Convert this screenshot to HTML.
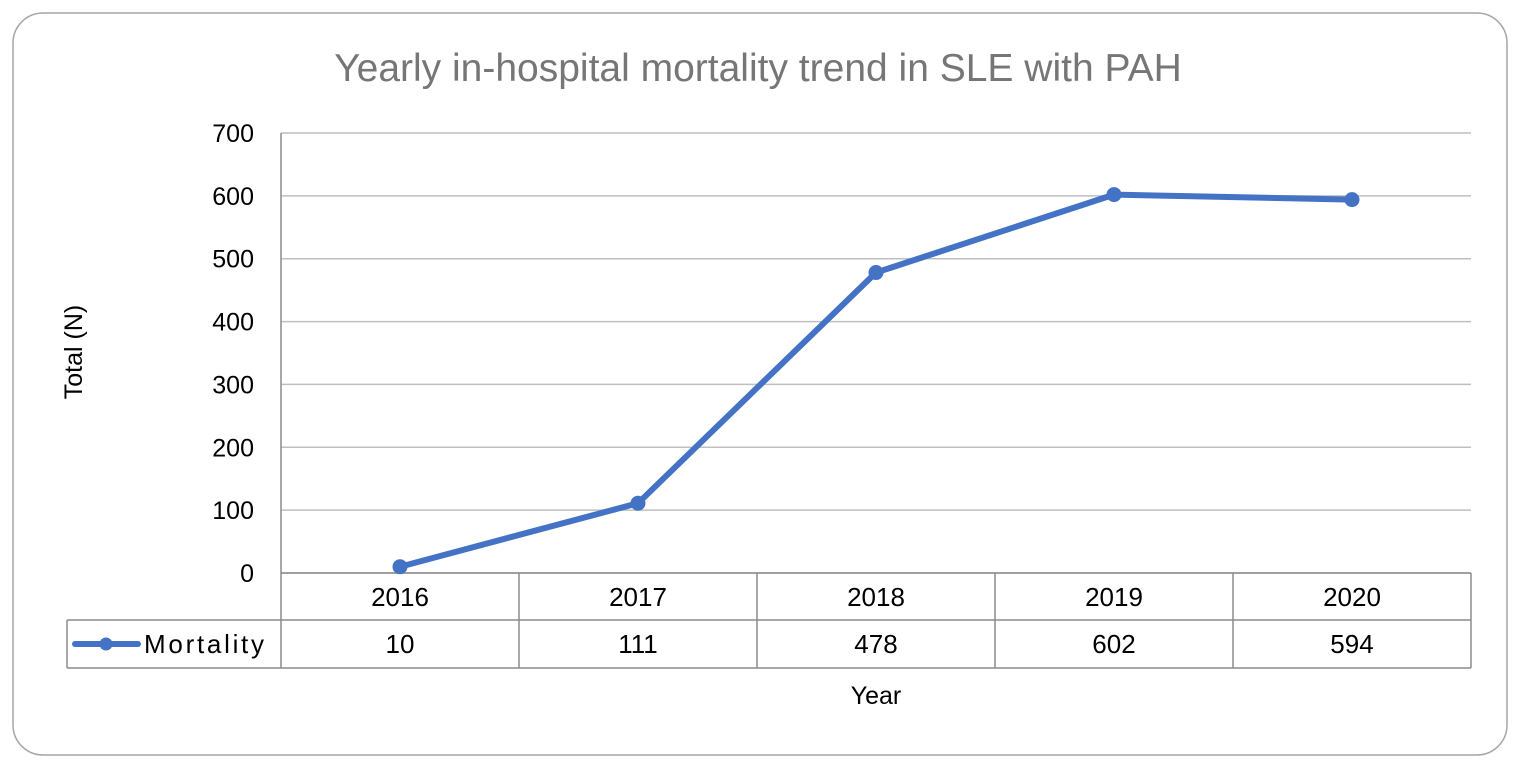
<!DOCTYPE html>
<html><head><meta charset="utf-8"><style>
body{margin:0;background:#fff;}
svg{display:block;font-family:"Liberation Sans",sans-serif;}
</style></head><body>
<svg width="1530" height="772" id="c">
<rect x="13" y="13" width="1494" height="742" rx="30" fill="#fff" stroke="#a6a6a6" stroke-width="1.5"/>
<text x="758" y="81" text-anchor="middle" font-size="39" fill="#767676">Yearly in-hospital mortality trend in SLE with PAH</text>
<text transform="translate(82,352) rotate(-90)" text-anchor="middle" font-size="25" fill="#000">Total (N)</text>
<text x="876" y="704" text-anchor="middle" font-size="25" fill="#000">Year</text>
<g id="grid"></g><g id="tbl"></g><g id="series"></g>
</svg>
<script>
const categories=["2016","2017","2018","2019","2020"];
const mortality=[10,111,478,602,594];
const yTicks=[0,100,200,300,400,500,600,700];
const NS="http://www.w3.org/2000/svg";
const L=281,R=1471,T=133,B=573,yMax=700;
const colW=(R-L)/categories.length;
const x=i=>L+colW*(i+0.5);
const y=v=>B-(v/yMax)*(B-T);
function mk(tag,attrs,parent){const e=document.createElementNS(NS,tag);for(const k in attrs)e.setAttribute(k,attrs[k]);parent.appendChild(e);return e;}
const grid=document.getElementById('grid'),tbl=document.getElementById('tbl'),ser=document.getElementById('series');
yTicks.forEach(t=>{
  const ln=mk('line',{x1:L,x2:R,y1:y(t),y2:y(t),stroke:'#bfbfbf','stroke-width':1.5},grid);
  
  
  const tx=mk('text',{x:254,y:y(t)+9,'text-anchor':'end','font-size':25},grid);
  tx.textContent=t;
  
  
});
const g='#8c8c8c';
mk('line',{x1:L,x2:L,y1:T,y2:668,stroke:g,'stroke-width':1.5},tbl);
mk('line',{x1:L,x2:R,y1:B,y2:B,stroke:g,'stroke-width':1.5},tbl);
mk('line',{x1:67,x2:R,y1:620,y2:620,stroke:g,'stroke-width':1.5},tbl);
mk('line',{x1:67,x2:R,y1:668,y2:668,stroke:g,'stroke-width':1.5},tbl);
mk('line',{x1:67,x2:67,y1:620,y2:668,stroke:g,'stroke-width':1.5},tbl);
for(let i=1;i<=categories.length;i++)mk('line',{x1:L+colW*i,x2:L+colW*i,y1:B,y2:668,stroke:g,'stroke-width':1.5},tbl);
categories.forEach((c,i)=>{
  const t=mk('text',{x:x(i),y:606,'text-anchor':'middle','font-size':26},tbl);
  t.textContent=c;
  
  
  const v=mk('text',{x:x(i),y:653,'text-anchor':'middle','font-size':26},tbl);
  v.textContent=mortality[i];
  
  
});
const lk=mk('line',{x1:75,x2:138,y1:644,y2:644,stroke:'#4472c4','stroke-width':6,'stroke-linecap':'round'},tbl);


mk('circle',{cx:106,cy:644,r:6.5,fill:'#4472c4'},tbl);
const lt=mk('text',{x:144,y:653,'font-size':26,textLength:120},tbl);
lt.textContent='Mortality';


const pl=mk('polyline',{points:mortality.map((v,i)=>x(i)+','+y(v)).join(' '),fill:'none',stroke:'#4472c4','stroke-width':6,'stroke-linejoin':'round'},ser);


mortality.forEach((v,i)=>{
  const c=mk('circle',{cx:x(i),cy:y(v),r:7.5,fill:'#4472c4'},ser);
  
  
});
</script>
</body></html>
